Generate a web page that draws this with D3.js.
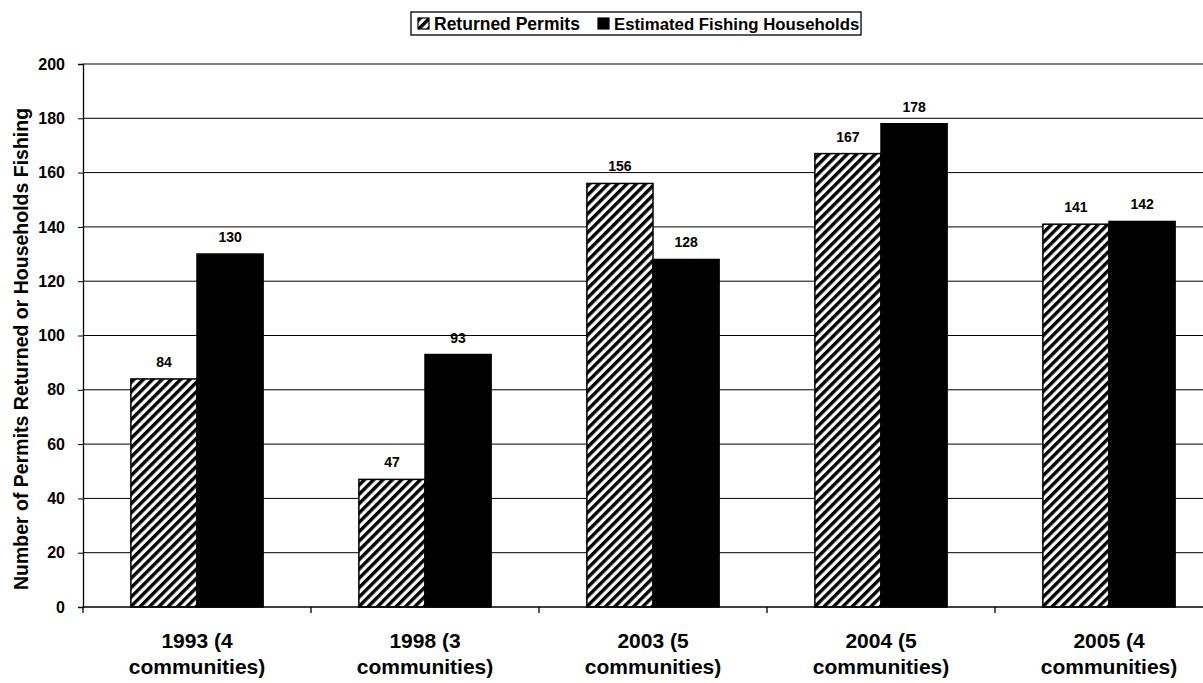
<!DOCTYPE html>
<html>
<head>
<meta charset="utf-8">
<script src="https://cdn.jsdelivr.net/npm/d3@7/dist/d3.min.js"></script>
<style>
  html, body { margin: 0; padding: 0; background: #fff; }
  svg { display: block; }
  text { font-family: "Liberation Sans", Arial, sans-serif; font-weight: bold; fill: #000; }
</style>
</head>
<body>
<svg id="chart" width="1203" height="683"></svg>
<script>
// Survey years (with number of communities surveyed)
const categories = [
  ["1993 (4", "communities)"],
  ["1998 (3", "communities)"],
  ["2003 (5", "communities)"],
  ["2004 (5", "communities)"],
  ["2005 (4", "communities)"]
];
const seriesNames = ["Returned Permits", "Estimated Fishing Households"];
const returnedPermits = [84, 47, 156, 167, 141];
const fishingHouseholds = [130, 93, 128, 178, 142];
const yTicks = [0, 20, 40, 60, 80, 100, 120, 140, 160, 180, 200];
const yTitle = "Number of Permits Returned or Households Fishing";

const svg = d3.select("#chart");
const margin = { left: 83, top: 64 };
const plotW = 1140, plotH = 543;

// diagonal "/" hatching for the permits series
const defs = svg.append("defs");
defs.append("pattern")
  .attr("id", "hatch")
  .attr("patternUnits", "userSpaceOnUse")
  .attr("width", 6.6).attr("height", 6.6)
  .attr("patternTransform", "rotate(45)")
  .call(p => {
    p.append("rect").attr("width", 6.6).attr("height", 6.6).attr("fill", "#fff");
    p.append("rect").attr("x", 0).attr("width", 3.4).attr("height", 6.6).attr("fill", "#000");
  });

const g = svg.append("g").attr("transform", `translate(${margin.left},${margin.top})`);

const x = d3.scaleBand().domain(d3.range(categories.length)).range([0, plotW]).paddingInner(0).paddingOuter(0);
const xs = d3.scaleBand().domain([0, 1]).range([x.bandwidth() * 0.21, x.bandwidth() * 0.79]);
const y = d3.scaleLinear().domain([0, 200]).range([plotH, 0]);

// gridlines
g.append("g").selectAll("line").data(yTicks.filter(t => t > 0)).join("line")
  .attr("x1", 0).attr("x2", plotW)
  .attr("y1", d => y(d)).attr("y2", d => y(d))
  .attr("stroke", "#000").attr("stroke-width", 1);

// y axis
const yAxis = g.append("g").call(d3.axisLeft(y).tickValues(yTicks).tickSize(5).tickPadding(13));
yAxis.select(".domain").attr("stroke", "#000").attr("stroke-width", 1.3);
yAxis.selectAll(".tick line").attr("stroke", "#000");
yAxis.selectAll("text")
  .style("font-size", "16px")
  .style("font-family", "'Liberation Sans', Arial, sans-serif")
  .style("font-weight", "bold").attr("fill", "#000");

// bars
const data = categories.map((c, i) => [returnedPermits[i], fishingHouseholds[i]]);
const groups = g.append("g").selectAll("g").data(data).join("g")
  .attr("transform", (d, i) => `translate(${x(i)},0)`);

groups.selectAll("rect").data(d => d).join("rect")
  .attr("x", (d, j) => xs(j))
  .attr("width", xs.bandwidth())
  .attr("y", d => y(d))
  .attr("height", d => plotH - y(d))
  .attr("fill", (d, j) => j === 0 ? "url(#hatch)" : "#000")
  .attr("stroke", "#000")
  .attr("stroke-width", 1.5);

groups.selectAll("text.val").data(d => d).join("text")
  .attr("class", "val")
  .attr("x", (d, j) => xs(j) + xs.bandwidth() / 2)
  .attr("y", d => y(d) - 12)
  .attr("text-anchor", "middle")
  .style("font-size", "14px")
  .text(d => d);

// x axis line and category ticks
g.append("line").attr("x1", 0).attr("x2", plotW).attr("y1", plotH).attr("y2", plotH)
  .attr("stroke", "#000").attr("stroke-width", 1.3);
g.append("g").selectAll("line").data(d3.range(categories.length + 1)).join("line")
  .attr("x1", i => i * x.step()).attr("x2", i => i * x.step())
  .attr("y1", plotH).attr("y2", plotH + 6)
  .attr("stroke", "#000").attr("stroke-width", 1.3);

// category labels
const cat = g.append("g").selectAll("text").data(categories).join("text")
  .attr("text-anchor", "middle")
  .style("font-size", "21px")
  .attr("transform", (d, i) => `translate(${x(i) + x.bandwidth() / 2},${plotH + 41})`);
cat.selectAll("tspan").data(d => d).join("tspan")
  .attr("x", 0).attr("dy", (d, k) => k === 0 ? 0 : 26).text(d => d);

// y axis title
svg.append("text")
  .attr("transform", "translate(28,349) rotate(-90)")
  .attr("text-anchor", "middle")
  .style("font-size", "19.5px")
  .text(yTitle);

// legend
const lg = svg.append("g").attr("transform", "translate(411,12)");
lg.append("rect").attr("width", 450).attr("height", 23).attr("fill", "#fff").attr("stroke", "#000").attr("stroke-width", 1.3);
const legendItems = [
  { name: seriesNames[0], fill: "url(#hatch)", x: 7, size: 17.5 },
  { name: seriesNames[1], fill: "#000", x: 187, size: 16.8 }
];
const li = lg.selectAll("g").data(legendItems).join("g").attr("transform", d => `translate(${d.x},6)`);
li.append("rect").attr("width", 11).attr("height", 11).attr("fill", d => d.fill).attr("stroke", "#000").attr("stroke-width", 1.2);
li.append("text").attr("x", 16).attr("y", 11.5).style("font-size", d => d.size + "px").text(d => d.name);
</script>
</body>
</html>
